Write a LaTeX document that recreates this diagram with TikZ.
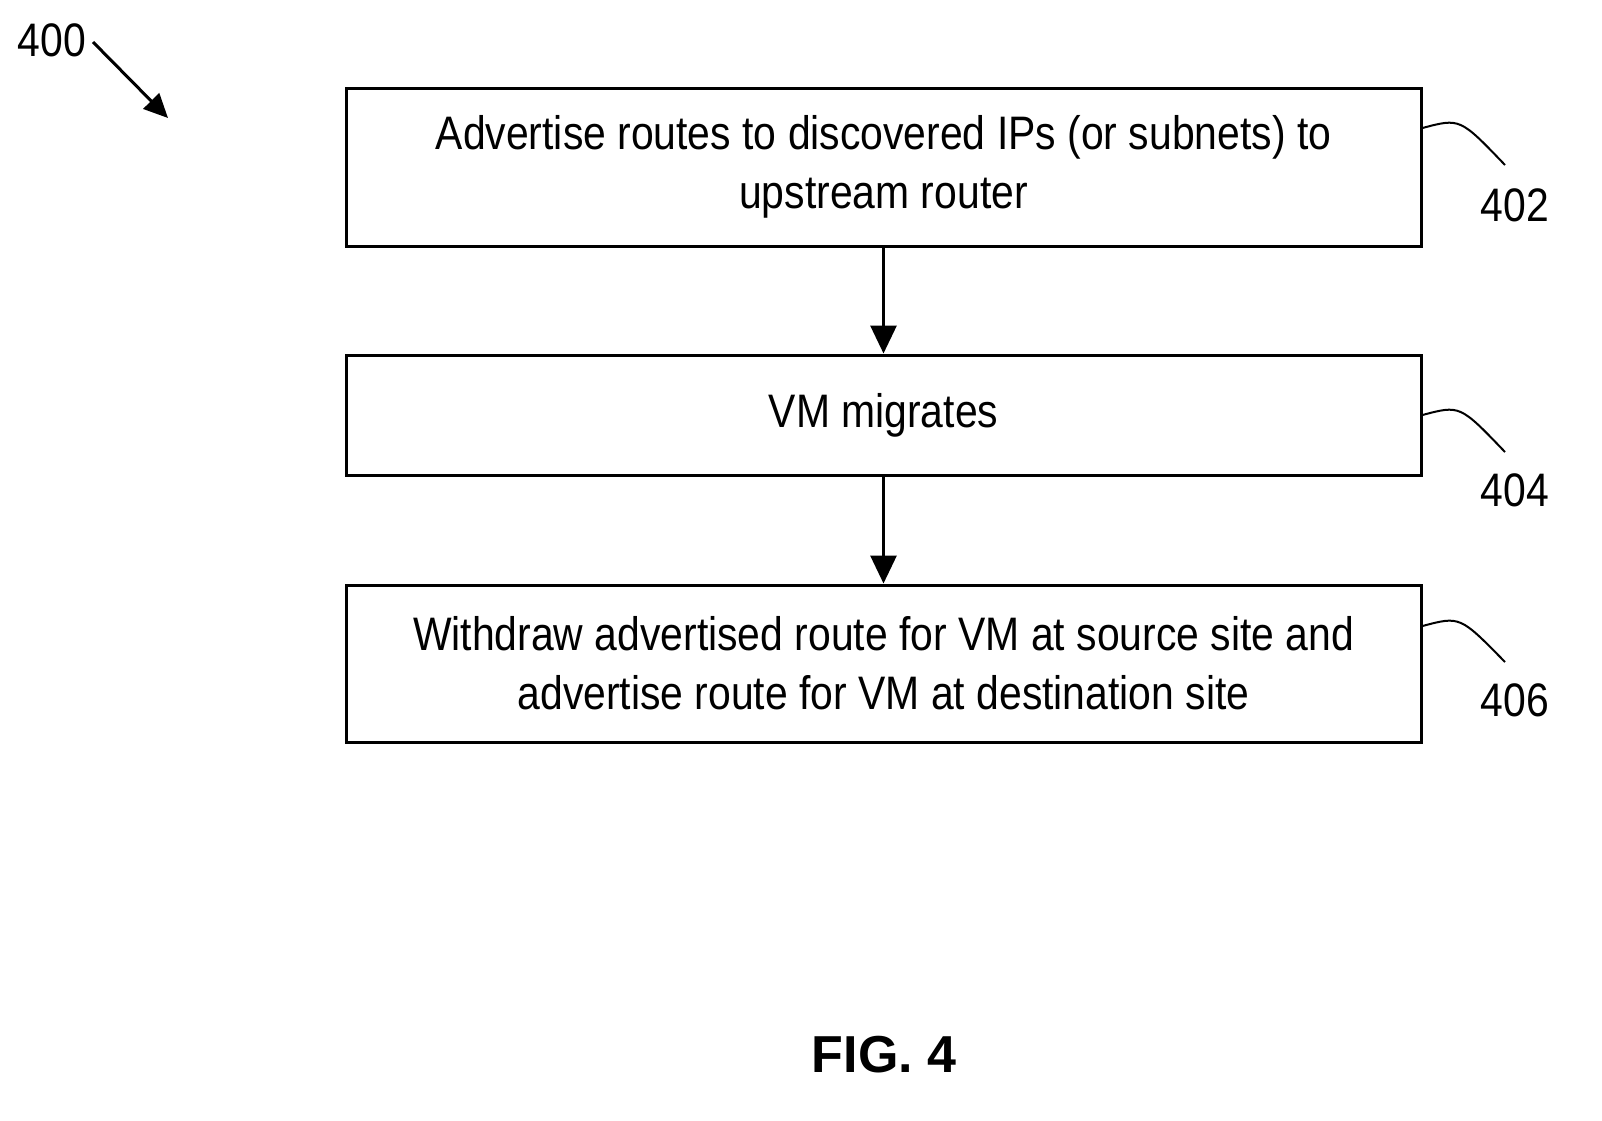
\documentclass[tikz,border=0pt]{standalone}
\usepackage{fontspec}
\setmainfont[FakeStretch=0.87]{Liberation Sans}
\newfontfamily\figfont{Liberation Sans}
\usetikzlibrary{positioning,arrows.meta}

\begin{document}
\begin{tikzpicture}[x=0.5pt,y=-0.5pt,
  stepbox/.style={draw,line width=1.5pt,minimum width=537.5pt,inner sep=0pt,align=center,font=\fontsize{23.5}{29.5}\selectfont},
  flow/.style={-{Triangle[length=14pt,width=13pt]},line width=1.5pt},
  lead/.style={line width=1pt},
  ref/.style={font=\fontsize{23.5}{28}\selectfont}]
\path[use as bounding box] (0,0) rectangle (1602,1120);

\node[stepbox,minimum height=79pt] (s402) at (883.5,167) {Advertise routes to discovered IPs (or subnets) to\\upstream router};
\node[stepbox,minimum height=60pt] (s404) at (883.5,415) {VM migrates};
\node[stepbox,minimum height=78.5pt] (s406) at (883.5,663.5) {Withdraw advertised route for VM at source site and\\advertise route for VM at destination site};

\draw[flow] (s402) -- (s404);
\draw[flow] (s404) -- (s406);

% reference numerals
\node[ref] (n402) at (1515,205) {402};
\node[ref] (n404) at (1515,490) {404};
\node[ref] (n406) at (1515,700) {406};
\draw[lead] (s402.east |- 0,128) .. controls (1460,118) .. (1505,165);
\draw[lead] (s404.east |- 0,415) .. controls (1460,405) .. (1505,452);
\draw[lead] (s406.east |- 0,626) .. controls (1460,616) .. (1505,662);

\node[ref] (n400) at (52,40) {400};
\coordinate (tip400) at (168,118);
\draw[line width=1.5pt,-{Triangle[length=12pt,width=11pt]}] (93,42) -- (tip400);

\node[font=\figfont\bfseries\fontsize{26}{30}\selectfont] (fig) at (884,1055) {FIG. 4};
\end{tikzpicture}
\end{document}
